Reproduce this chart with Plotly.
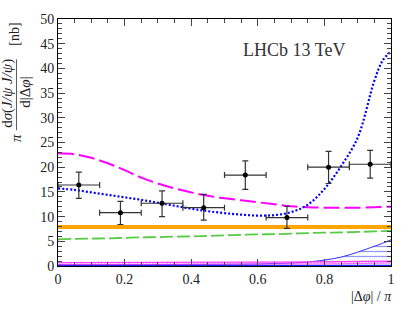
import plotly.graph_objects as go

# ---- data ----
x_data = [0.0625, 0.1875, 0.3125, 0.4375, 0.5625, 0.6875, 0.8125, 0.9375]
y_data = [16.4, 10.8, 12.7, 11.8, 18.4, 9.8, 20.0, 20.6]
y_err_up = [2.6, 2.3, 2.5, 2.7, 2.9, 2.3, 3.2, 2.8]
y_err_dn = [2.7, 2.4, 2.7, 2.5, 2.9, 2.2, 3.3, 2.8]
x_half = [0.0625] * 8

x_curve = [0.0, 0.05, 0.1, 0.15, 0.2, 0.25, 0.3, 0.35, 0.4, 0.45, 0.5,
           0.55, 0.6, 0.65, 0.7, 0.75, 0.8, 0.85, 0.9, 0.95, 0.975, 1.0]
magenta_dash = [22.8, 22.6, 21.9, 20.8, 19.4, 17.9, 16.7, 15.7, 14.9, 14.2, 13.7,
                13.3, 12.9, 12.5, 12.1, 11.9, 11.8, 11.8, 11.8, 11.9, 11.95, 12.0]
blue_dot = [15.7, 15.4, 14.9, 14.4, 13.9, 13.4, 12.8, 12.2, 11.6, 11.1, 10.7,
            10.4, 10.2, 10.3, 10.9, 12.4, 15.6, 20.2, 26.0, 37.5, 41.6, 43.5]
green_dash = [5.4, 5.5, 5.55, 5.6, 5.7, 5.8, 5.85, 5.95, 6.0, 6.1, 6.2,
              6.3, 6.4, 6.45, 6.55, 6.65, 6.75, 6.8, 6.9, 7.0, 7.05, 7.1]
orange_const = [7.9] * len(x_curve)
blue_band_lo = [0.1] * len(x_curve)
blue_band_hi = [0.3, 0.3, 0.3, 0.3, 0.3, 0.3, 0.3, 0.3, 0.32, 0.33, 0.35,
                0.37, 0.4, 0.5, 0.6, 0.8, 1.2, 1.8, 2.8, 4.0, 4.6, 5.3]
mag_band_lo = [0.3, 0.3, 0.3, 0.3, 0.3, 0.3, 0.3, 0.3, 0.3, 0.3, 0.3,
               0.3, 0.3, 0.32, 0.35, 0.38, 0.42, 0.46, 0.5, 0.55, 0.58, 0.6]
mag_band_hi = [0.7, 0.7, 0.7, 0.7, 0.7, 0.7, 0.7, 0.7, 0.7, 0.7, 0.7,
               0.7, 0.72, 0.74, 0.77, 0.8, 0.84, 0.88, 0.92, 0.95, 0.97, 1.0]

x_ticks = [0, 0.2, 0.4, 0.6, 0.8, 1]
x_tick_labels = ["0", "0.2", "0.4", "0.6", "0.8", "1"]
y_ticks = [0, 5, 10, 15, 20, 25, 30, 35, 40, 45, 50]

FONT = "Liberation Serif"

fig = go.Figure()

# bottom bands
fig.add_trace(go.Scatter(x=x_curve, y=blue_band_lo, mode="lines",
                         line=dict(color="#2020ff", width=1.5), showlegend=False))
fig.add_trace(go.Scatter(x=x_curve, y=blue_band_hi, mode="lines", line_shape="spline",
                         line=dict(color="#3030ff", width=1), fill="tonexty",
                         fillcolor="rgba(0,0,0,0)",
                         fillpattern=dict(shape="-", fgcolor="#3030ff", bgcolor="rgba(0,0,0,0)",
                                          size=5, solidity=0.25),
                         showlegend=False))
fig.add_trace(go.Scatter(x=x_curve, y=mag_band_lo, mode="lines",
                         line=dict(color="#ff40ff", width=0.8), showlegend=False))
fig.add_trace(go.Scatter(x=x_curve, y=mag_band_hi, mode="lines",
                         line=dict(color="#ff40ff", width=1.2), fill="tonexty",
                         fillcolor="rgba(0,0,0,0)",
                         fillpattern=dict(shape="|", fgcolor="#ff40ff", bgcolor="rgba(0,0,0,0)",
                                          size=3, solidity=0.4),
                         showlegend=False))

# curves
fig.add_trace(go.Scatter(x=x_curve, y=orange_const, mode="lines",
                         line=dict(color="#ffa500", width=4), showlegend=False))
fig.add_trace(go.Scatter(x=x_curve, y=green_dash, mode="lines", line_shape="spline",
                         line=dict(color="#55cc44", width=1.8, dash="13px,4px"), showlegend=False))
fig.add_trace(go.Scatter(x=x_curve, y=magenta_dash, mode="lines", line_shape="spline",
                         line=dict(color="#ff00ff", width=2, dash="16px,5px"), showlegend=False))
fig.add_trace(go.Scatter(x=x_curve, y=blue_dot, mode="lines", line_shape="spline",
                         line=dict(color="#0000ff", width=2.2, dash="2px,2px"), showlegend=False))

# data
fig.add_trace(go.Scatter(
    x=x_data, y=y_data, mode="markers",
    marker=dict(color="black", size=5),
    error_y=dict(type="data", symmetric=False, array=y_err_up, arrayminus=y_err_dn,
                 color="#333333", thickness=1.2, width=3),
    error_x=dict(type="data", array=x_half, color="#333333", thickness=1.2, width=3),
    showlegend=False))

axis_common = dict(showline=True, linecolor="black", linewidth=1, mirror="ticks",
                   ticks="inside", tickcolor="#444444", showgrid=False, zeroline=False,
                   ticklabeloverflow="allow",
                   tickfont=dict(family=FONT, size=14, color="#222222"))

fig.update_xaxes(range=[0, 1], tickvals=x_ticks, ticktext=x_tick_labels, ticklen=7,
                 minor=dict(dtick=0.05, ticks="inside", ticklen=4, tickcolor="#444444"),
                 **axis_common)
fig.update_yaxes(range=[0, 50], tickvals=y_ticks, ticklen=7,
                 minor=dict(dtick=1, ticks="inside", ticklen=4, tickcolor="#444444"),
                 **axis_common)

W, H = 412, 318
L, R, T, B = 58, 21, 15, 52
pw, ph = W - L - R, H - T - B


def px(x):
    return (x - L) / pw


def py(y):
    return (H - B - y) / ph


ann_font = dict(family=FONT, size=15, color="#222222")
annotations = [
    dict(text="LHCb 13 TeV", x=px(347), y=py(46), xref="paper", yref="paper",
         showarrow=False, xanchor="right", yanchor="middle",
         font=dict(family=FONT, size=18, color="#333333")),
    dict(text="|Δ<i>φ</i>| / <i>π</i>", x=px(394), y=py(297), xref="paper", yref="paper",
         showarrow=False, xanchor="right", yanchor="middle",
         font=dict(family=FONT, size=14, color="#222222")),
    dict(text="d<i>σ</i>(<i>J/ψ J/ψ</i>)", x=px(8), y=py(91), xref="paper", yref="paper",
         showarrow=False, textangle=-90, xanchor="center", yanchor="middle", font=ann_font),
    dict(text="d|Δ<i>φ</i>|", x=px(25), y=py(90), xref="paper", yref="paper",
         showarrow=False, textangle=-90, xanchor="center", yanchor="middle", font=ann_font),
    dict(text="<i>π</i>", x=px(16), y=py(136), xref="paper", yref="paper",
         showarrow=False, textangle=-90, xanchor="center", yanchor="middle", font=ann_font),
    dict(text="[nb]", x=px(15), y=py(31), xref="paper", yref="paper",
         showarrow=False, textangle=-90, xanchor="center", yanchor="middle",
         font=dict(family=FONT, size=14, color="#222222")),
]

shapes = [
    dict(type="line", xref="paper", yref="paper", x0=px(16.5), x1=px(16.5),
         y0=py(56), y1=py(128), line=dict(color="#333333", width=0.8)),
]

fig.update_layout(width=W, height=H, margin=dict(l=L, r=R, t=T, b=B),
                  plot_bgcolor="white", paper_bgcolor="white",
                  annotations=annotations, shapes=shapes)

fig.write_html("out.html", config={"displayModeBar": False},
               post_script="document.body.style.margin='0';document.body.style.padding='0';")
